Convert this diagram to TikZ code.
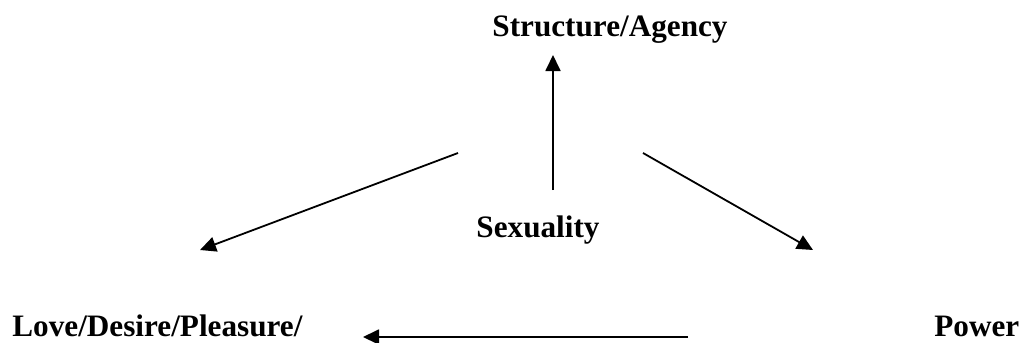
\documentclass[tikz,border=0pt]{standalone}
\usepackage{fontspec}
\setmainfont{Liberation Serif}
\usetikzlibrary{arrows.meta}
\begin{document}
\begin{tikzpicture}[x=0.5pt,y=-0.5pt,
  lbl/.style={inner sep=0pt,font=\fontsize{15.6}{18}\selectfont\bfseries},
  arr/.style={line width=0.9pt,-{Triangle[length=8pt,width=7.5pt]}}]
\useasboundingbox (0,0) rectangle (1024,343);
\node[lbl,anchor=base] (struct) at (610,36) {Structure/Agency};
\node[lbl,anchor=base] (sex) at (538,237) {Sexuality};
\node[lbl,anchor=base west] (love) at (12,336) {Love/Desire/Pleasure/};
\node[lbl,anchor=base west] (power) at (934,336) {Power};
\coordinate (upS) at (553,190);
\coordinate (upE) at (553,55);
\coordinate (lS) at (458,153);
\coordinate (lE) at (200,250);
\coordinate (rS) at (643,153);
\coordinate (rE) at (813,250);
\coordinate (hS) at (688,337);
\coordinate (hE) at (363,337);
\draw[arr] (upS) -- (upE);
\draw[arr] (lS) -- (lE);
\draw[arr] (rS) -- (rE);
\draw[arr] (hS) -- (hE);
\end{tikzpicture}
\end{document}
